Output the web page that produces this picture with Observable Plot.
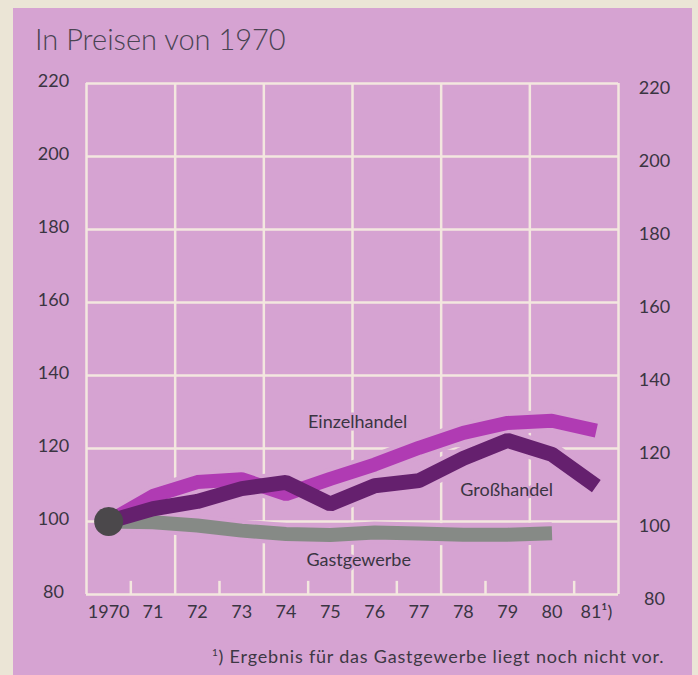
<!DOCTYPE html>
<html>
<head>
<meta charset="utf-8">
<script src="https://cdn.jsdelivr.net/npm/d3@7"></script>
<script src="https://cdn.jsdelivr.net/npm/@observablehq/plot@0.6"></script>
<style>
  html, body { margin: 0; padding: 0; background: #ebe5d6; }
  #wrap { position: relative; width: 698px; height: 675px; overflow: hidden; }
  #panel { position: absolute; left: 13px; top: 8px; width: 679px; height: 667px; background: #d6a3d2; }
  #title { position: absolute; left: 35px; top: 21px; font-family: Lato, sans-serif; font-weight: 300; font-size: 29px; color: #4a4452; white-space: nowrap; }
  #chart { position: absolute; left: 0; top: 60px; }
  #note { position: absolute; left: 212px; top: 645px; font-family: Lato, sans-serif; font-size: 18px; letter-spacing: 0.8px; color: #3d3844; white-space: nowrap; }
</style>
</head>
<body>
<div id="wrap">
  <div id="panel"></div>
  <div id="title">In Preisen von 1970</div>
  <div id="chart"></div>
  <div id="note"><sup style="font-size:10px">1</sup>) Ergebnis für das Gastgewerbe liegt noch nicht vor.</div>
</div>
<script>
// ---- data ----
const years = [1970, 1971, 1972, 1973, 1974, 1975, 1976, 1977, 1978, 1979, 1980, 1981];
const einzelhandel = [100, 107, 110.8, 111.6, 107.5, 111.7, 115.6, 120.2, 124.3, 127.0, 127.6, 124.9];
const grosshandel  = [100, 103.5, 105.5, 109, 110.7, 104.8, 109.8, 111.2, 117.3, 122.2, 118.4, 109.7];
const gastgewerbe  = [100, 99.8, 98.9, 97.5, 96.6, 96.3, 97, 96.7, 96.4, 96.4, 96.8];
const yearLabels = ["1970", "71", "72", "73", "74", "75", "76", "77", "78", "79", "80", "81¹)"];
const yTicks = [80, 100, 120, 140, 160, 180, 200, 220];
const gridYears = [1969.5, 1971.5, 1973.5, 1975.5, 1977.5, 1979.5, 1981.5];
const minorYears = [1970.5, 1972.5, 1974.5, 1976.5, 1978.5, 1980.5];

// ---- build table ----
const rows = [];
const addSeries = (name, vals) => vals.forEach((v, i) => rows.push({series: name, year: years[i], value: v}));
addSeries("Gastgewerbe", gastgewerbe);
addSeries("Einzelhandel", einzelhandel);
addSeries("Großhandel", grosshandel);
const bySeries = name => rows.filter(d => d.series === name);
const pointOf = (name, yr) => rows.filter(d => d.series === name && d.year === yr);

const BG = "#d6a3d2";
const GRID = "#f3e7df";
const TXT = "#3a3542";
const colors = {Einzelhandel: "#b03bb3", "Großhandel": "#65206e", Gastgewerbe: "#868a86"};
const font = "Lato, sans-serif";

const lineOpts = (name, w) => ({x: "year", y: "value", stroke: colors[name], strokeWidth: w, strokeLinejoin: "miter", strokeLinecap: "butt"});
const haloOpts = (name, w) => ({x: "year", y: "value", stroke: BG, strokeWidth: w, strokeLinejoin: "round", strokeLinecap: "butt"});
const labelOpts = (dx, dy) => ({x: "year", y: "value", text: "series", dx, dy, fontSize: 18, fill: TXT, stroke: BG, strokeWidth: 5, style: "letter-spacing:0.5px"});

const chart = Plot.plot({
  width: 698,
  height: 615,
  marginLeft: 86,
  marginRight: 80,
  marginTop: 23,
  marginBottom: 81,
  style: {background: "transparent", fontFamily: font, color: TXT, overflow: "visible"},
  x: {domain: [1969.5, 1981.5], axis: null},
  y: {domain: [80, 220], axis: null},
  marks: [
    Plot.ruleY(yTicks, {stroke: GRID, strokeWidth: 2.5}),
    Plot.ruleX(gridYears, {stroke: GRID, strokeWidth: 2.5}),
    Plot.ruleX(minorYears, {y1: 80, y2: 83.6, stroke: GRID, strokeWidth: 2.5}),
    // halos hiding the grid around the lines
    Plot.line(bySeries("Gastgewerbe"), haloOpts("Gastgewerbe", 22)),
    Plot.line(bySeries("Einzelhandel"), haloOpts("Einzelhandel", 22)),
    Plot.line(bySeries("Großhandel"), haloOpts("Großhandel", 23)),
    // lines
    Plot.line(bySeries("Gastgewerbe"), lineOpts("Gastgewerbe", 14)),
    Plot.line(bySeries("Einzelhandel"), lineOpts("Einzelhandel", 14)),
    Plot.line(bySeries("Großhandel"), lineOpts("Großhandel", 15)),
    Plot.dot(pointOf("Gastgewerbe", 1970), {x: "year", y: "value", r: 14.5, fill: "#4b484b", stroke: null}),
    // series labels
    Plot.text(pointOf("Einzelhandel", 1976), labelOpts(-17, -42)),
    Plot.text(pointOf("Großhandel", 1979), labelOpts(-1, 50)),
    Plot.text(pointOf("Gastgewerbe", 1976), labelOpts(-16, 28)),
    // axes
    Plot.axisY(yTicks, {anchor: "left", label: null, tickSize: 0, tickPadding: 33, textAnchor: "middle", dy: -2, fontSize: 18, fill: TXT, tickFormat: d => String(d)}),
    Plot.axisY(yTicks, {anchor: "right", label: null, tickSize: 0, tickPadding: 36, textAnchor: "middle", dy: 5, fontSize: 18, fill: TXT, tickFormat: d => String(d)}),
    Plot.axisX(years, {anchor: "bottom", label: null, tickSize: 0, tickPadding: 11, fontSize: 18, fill: TXT, tickFormat: d => yearLabels[years.indexOf(d)]})
  ]
});
document.getElementById("chart").appendChild(chart);
</script>
</body>
</html>
